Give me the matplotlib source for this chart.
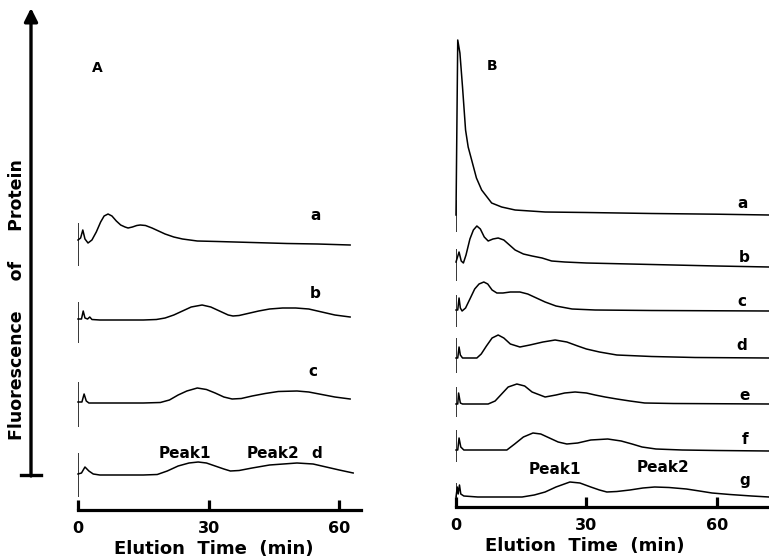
import numpy as np
import matplotlib
matplotlib.use("Agg")
import matplotlib.pyplot as plt
from matplotlib.lines import Line2D

plt.rcParams['font.family'] = ['DejaVu Sans']
plt.rcParams['font.weight'] = 'bold'

# ---- panel A: elution profiles (time in min, signal above each trace's baseline)
a_names = ['a', 'b', 'c', 'd']
a_offsets = [265, 190, 107, 35]
a_marker = [(22, -21), (18, -23), (21, -24), (22, -22)]

a_t = [
    [0, 0.6, 1.1, 1.6, 2.3, 3.2, 4.2, 5.2, 6.0, 6.9, 7.8, 8.8, 9.8, 10.8, 11.5,
     12.5, 13.5, 14.3, 15.5, 17, 18.5, 20, 22, 24, 27.4, 32, 40, 48, 55, 62.5],
    [0, 0.8, 1.2, 1.6, 2.2, 2.7, 3.2, 5, 10, 15, 18, 20, 22, 24, 26, 28.5, 30.5,
     32.5, 34.5, 35.6, 37, 39, 41.5, 44, 47, 50, 53, 56, 59, 62.5],
    [0, 0.9, 1.4, 1.9, 2.5, 5, 10, 15, 18.9, 21, 23, 25, 27.4, 29.5, 31.5, 33.5,
     35.4, 37.5, 40, 43, 46, 50.3, 53, 56, 59, 62.5],
    [0, 0.8, 1.6, 2.5, 3.5, 5, 10, 15, 18.2, 20.5, 23, 25.5, 27.6, 29.5, 31.5,
     33.5, 35, 37, 40, 44, 50.3, 54, 57, 60, 63.2],
]
a_h = [
    [5, 7, 15, 6, 2, 5, 13, 23, 29, 31, 29, 24, 20, 18, 17, 18, 19.5, 20, 19.5,
     17, 14, 11, 8, 6, 4, 3.5, 2.5, 1.5, 1, 0],
    [1, 1, 9, 2, 1, 3, 0.5, 0, 0, 0, 0.5, 2, 5, 9, 13, 15, 13, 9, 5, 4, 4.5, 6.5,
     9, 11, 12, 12, 11, 8, 5, 3],
    [1, 1, 9, 2, 0, 0, 0, 0, 0.5, 3, 8, 12, 15, 13.5, 10, 6, 4, 4.5, 7, 9.5, 11.5,
     12, 11, 8.5, 6, 4],
    [1, 2, 8, 4, 1, 0, 0, 0, 0.5, 4, 9, 12, 13, 12, 9, 6, 4, 4.5, 7, 10, 12, 11,
     8, 5, 2],
]

# ---- panel B
b_names = ['a', 'b', 'c', 'd', 'e', 'f', 'g']
b_offsets = [292, 240, 196, 149, 103, 56, 10]
b_marker = [(15, -17), (18, -14), (16, -16), (20, -15), (17, -13), (21, -11), (14, -10)]

b_t = [
    [0, 0.4, 0.9, 1.5, 2.2, 2.8, 3.6, 4.7, 5.9, 8.2, 10.5, 13.6, 20.5, 30, 45, 60, 72],
    [0, 0.7, 1.2, 1.7, 2.3, 3.2, 4.0, 4.8, 5.6, 6.5, 7.4, 8.5, 9.7, 11, 13.6, 15.5,
     17.5, 19.8, 22, 25, 30, 40, 50, 60, 72],
    [0, 0.4, 0.7, 1.0, 1.4, 2.2, 3.2, 4.3, 5.3, 6.4, 7.3, 8.3, 9.4, 10.8, 12.5,
     14.7, 16.5, 18.5, 20.5, 23, 26.7, 32, 45, 72],
    [0, 0.4, 0.7, 1.0, 1.5, 4.8, 5.8, 7, 8.3, 9.7, 11, 12.5, 14.7, 17, 20, 22.8,
     25.5, 28, 30, 33, 37, 45, 55, 72],
    [0, 0.4, 0.6, 1.0, 1.5, 7.4, 9, 10.5, 12, 14, 15.8, 17.5, 20.5, 23, 25, 27.4,
     30, 32, 34.3, 37, 40, 43.4, 50, 72],
    [0, 0.4, 0.7, 1.1, 1.8, 5, 11.7, 13.5, 15.5, 17.7, 19.5, 21.5, 23.5, 25.5, 28,
     31, 34.9, 38, 40.5, 42.8, 46, 52, 60, 72],
    [0, 0.3, 0.5, 0.8, 1.1, 1.8, 5, 15.2, 18, 20.5, 23, 26.2, 28.5, 31, 33, 34.7,
     37, 40, 43, 45.7, 49, 53, 56, 58.9, 63, 68, 72],
]
b_h = [
    [0, 175, 162, 128, 85, 68, 55, 37, 25, 12, 8, 5, 3, 2.5, 1.5, 0.8, 0],
    [5, 15, 6, 4, 12, 28, 37, 41, 38, 30, 26, 28, 29, 27, 17, 13, 11, 9, 6, 5,
     4, 3, 2, 1, 0],
    [1, 1, 13, 3, 0, 3, 12, 22, 27, 29, 27, 21, 18, 18, 19, 19, 17, 13, 9, 5, 2,
     1, 0.5, 0],
    [0, 0, 11, 3, 0, 0, 4, 12, 20, 23, 20, 14, 11, 13, 16, 18, 16, 12, 9, 6, 3,
     1.5, 0.5, 0],
    [0, 0, 11, 1, 0, 0, 3, 10, 17, 20, 18, 12, 7, 9, 11, 12, 11, 9, 7, 5, 3, 1,
     0.5, 0],
    [1, 1, 13, 4, 1, 1, 1, 7, 14, 18, 17, 13, 9, 7, 8, 11, 12, 10, 7, 4, 2, 1,
     0.5, 0],
    [0, 10, 3, 12, 3, 1, 0, 0, 2, 5, 10, 15, 14, 10, 7, 5, 5.5, 7, 9, 10, 9.5, 8,
     6, 4, 2.5, 1, 0],
]

ticks = [0, 30, 60]

fig = plt.figure(figsize=(7.69, 5.6), dpi=100)
axA = fig.add_axes([78 / 769, 50 / 560, 283 / 769, 510 / 560])
axB = fig.add_axes([456 / 769, 53 / 560, 313 / 769, 507 / 560])
axA.set_xlim(0, 65)
axA.set_ylim(0, 510)
axB.set_xlim(0, 72)
axB.set_ylim(0, 507)


def draw_panel(ax, offsets, markers, ts, hs):
    for off, (hi, lo), t, h in zip(offsets, markers, ts, hs):
        ax.plot(t, off + np.array(h), color='k', lw=1.1, clip_on=False)
        ax.vlines(0, off + lo, off + hi, color='k', lw=1.1)
    for s in ['top', 'right', 'left']:
        ax.spines[s].set_visible(False)
    ax.spines['bottom'].set_linewidth(2.3)
    ax.set_yticks([])
    ax.set_xticks(ticks)
    ax.set_xticklabels([str(v) for v in ticks], fontsize=11.5, fontweight='bold')
    ax.tick_params(axis='x', direction='in', length=7, width=2.3, pad=8)
    ax.patch.set_visible(False)


draw_panel(axA, a_offsets, a_marker, a_t, a_h)
draw_panel(axB, b_offsets, b_marker, b_t, b_h)

lab = dict(fontsize=11, fontweight='bold', ha='center', va='center')
for name, x, y in zip(a_names, [54.5, 54.5, 54.0, 54.9], [295, 217, 138, 57]):
    axA.text(x, y, name, **lab)
axA.text(24.6, 57, 'Peak1', **lab)
axA.text(44.8, 57, 'Peak2', **lab)
axA.text(4.4, 442, 'A', fontsize=10, fontweight='bold', ha='center', va='center')

for name, x, y in zip(b_names, [66.0, 66.4, 65.7, 65.7, 66.4, 66.4, 66.4],
                      [304, 249, 205, 162, 112, 67, 27]):
    axB.text(x, y, name, **lab)
axB.text(22.8, 37, 'Peak1', **lab)
axB.text(47.6, 40, 'Peak2', **lab)
axB.text(8.3, 441, 'B', fontsize=10, fontweight='bold', ha='center', va='center')

axA.text(0.48, -0.076, 'Elution  Time  (min)', transform=axA.transAxes,
         fontsize=13, fontweight='bold', ha='center', va='center')
axB.text(0.41, -0.076, 'Elution  Time  (min)', transform=axB.transAxes,
         fontsize=13, fontweight='bold', ha='center', va='center')

# vertical intensity arrow with its foot bar
fig.text(17 / 769, 1 - 300 / 560, 'Fluorescence     of     Protein', rotation=90,
         fontsize=12.5, fontweight='bold', ha='center', va='center')
axA.annotate('', xy=(31, 552), xytext=(31, 84), xycoords='figure pixels',
             textcoords='figure pixels',
             arrowprops=dict(arrowstyle='-|>', lw=2.4, color='k',
                             mutation_scale=20, shrinkA=0, shrinkB=0))
fig.add_artist(Line2D([21 / 769, 41 / 769], [85 / 560, 85 / 560],
                      transform=fig.transFigure, color='k', lw=2.4))

fig.savefig('out.png', dpi=100)
